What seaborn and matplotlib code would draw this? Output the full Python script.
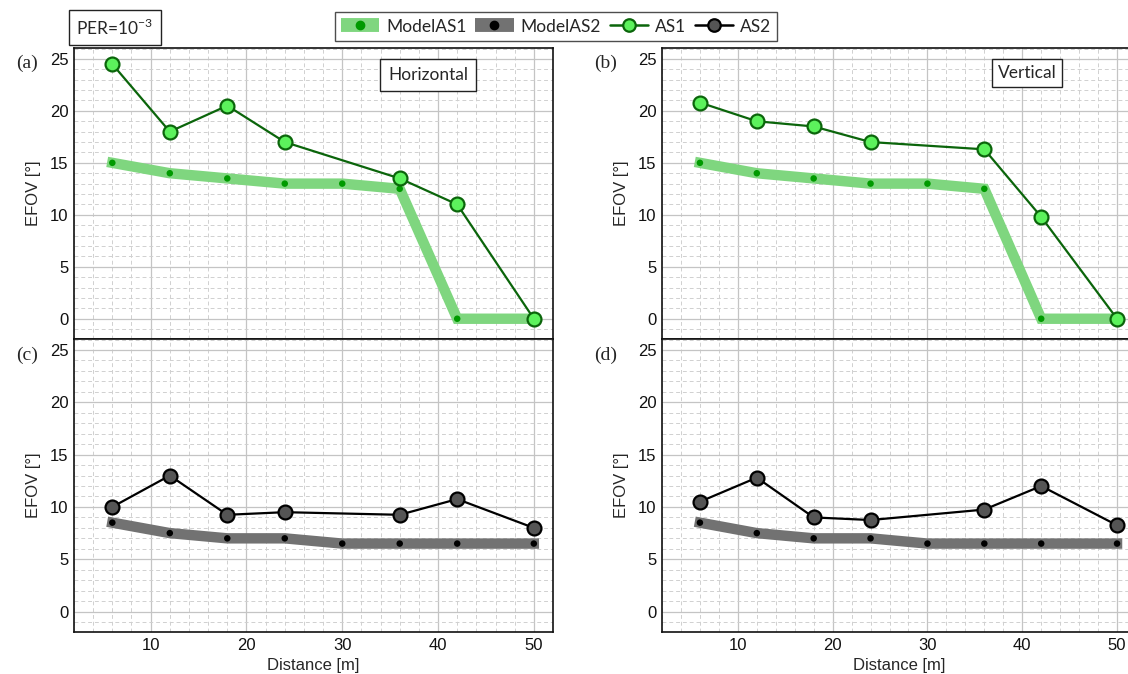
import numpy as np
import matplotlib
matplotlib.use("Agg")
import matplotlib.pyplot as plt
from matplotlib.lines import Line2D
from matplotlib.ticker import MultipleLocator
import seaborn as sns

# ---------------- data ----------------
dist_meas = [6, 12, 18, 24, 36, 42, 50]
dist_model = [6, 12, 18, 24, 30, 36, 42, 50]

model_as1 = [15, 14, 13.5, 13, 13, 12.5, 0, 0]
model_as2 = [8.5, 7.5, 7, 7, 6.5, 6.5, 6.5, 6.5]

as1_horizontal = [24.5, 18, 20.5, 17, 13.5, 11, 0]
as1_vertical = [20.8, 19, 18.5, 17, 16.3, 9.8, 0]
as2_horizontal = [10, 13, 9.25, 9.5, 9.25, 10.75, 8]
as2_vertical = [10.5, 12.8, 9, 8.75, 9.75, 12, 8.25]

y_ticks = [0, 5, 10, 15, 20, 25]
x_ticks = [10, 20, 30, 40, 50]

# ---------------- style ----------------
sns.set_theme(style="whitegrid")
plt.rcParams["font.family"] = ["Liberation Sans", "DejaVu Sans"]

GREEN_BAND = "#7fd67f"
GREEN_DOT = "#009a00"
GREEN_LINE = "#0b650b"
GREEN_FILL = "#5cf25c"
GRAY_BAND = "#727272"
GRAY_FILL = "#555555"
BOX_FONT = ["Lato", "DejaVu Sans"]

W, H = 1128, 674
fig = plt.figure(figsize=(W / 100, H / 100), dpi=100)


def px_axes(x0, y0, x1, y1):
    return fig.add_axes([x0 / W, 1 - y1 / H, (x1 - x0) / W, (y1 - y0) / H])


ax_a = px_axes(74, 48, 553, 339)
ax_c = px_axes(74, 339, 553, 632)
ax_b = px_axes(662, 48, 1136, 339)
ax_d = px_axes(662, 339, 1136, 632)


def style_axes(ax, bottom):
    ax.set_xlim(2, 52)
    ax.set_ylim(-1.95, 26.05)
    ax.set_xticks(x_ticks)
    ax.set_yticks(y_ticks)
    ax.xaxis.set_minor_locator(MultipleLocator(2))
    ax.yaxis.set_minor_locator(MultipleLocator(1))
    ax.grid(which="major", color="#c4c4c4", lw=0.9, ls="-")
    ax.grid(which="minor", color="#d0d0d0", lw=0.7, ls=(0, (4, 3)))
    ax.set_axisbelow(True)
    ax.set_facecolor("white")
    ax.tick_params(which="both", length=0, labelsize=12, colors="#111111", pad=4)
    for s in ax.spines.values():
        s.set_color("#111111")
        s.set_linewidth(1.2)
    ax.set_ylabel("EFOV [°]", fontsize=12, labelpad=6)
    if bottom:
        ax.set_xlabel("Distance [m]", fontsize=12, labelpad=4)
    else:
        ax.set_xlabel("")
        ax.tick_params(axis="x", labelbottom=False)


def draw_model(ax, values, band, dot):
    sns.lineplot(x=dist_model, y=values, ax=ax, color=band, lw=7.5,
                 solid_capstyle="projecting", solid_joinstyle="miter", zorder=2)
    sns.scatterplot(x=dist_model, y=values, ax=ax, color=dot, s=22,
                    edgecolor="none", zorder=3)


def draw_meas(ax, values, line, fill):
    sns.lineplot(x=dist_meas, y=values, ax=ax, color=line, lw=1.6,
                 marker="o", markersize=10, markerfacecolor=fill,
                 markeredgecolor=line, markeredgewidth=1.6, zorder=4)


draw_model(ax_a, model_as1, GREEN_BAND, GREEN_DOT)
draw_meas(ax_a, as1_horizontal, GREEN_LINE, GREEN_FILL)
draw_model(ax_b, model_as1, GREEN_BAND, GREEN_DOT)
draw_meas(ax_b, as1_vertical, GREEN_LINE, GREEN_FILL)
draw_model(ax_c, model_as2, GRAY_BAND, "black")
draw_meas(ax_c, as2_horizontal, "black", GRAY_FILL)
draw_model(ax_d, model_as2, GRAY_BAND, "black")
draw_meas(ax_d, as2_vertical, "black", GRAY_FILL)

for ax, bottom in [(ax_a, False), (ax_b, False), (ax_c, True), (ax_d, True)]:
    style_axes(ax, bottom)

# panel letters
for label, xp, yp in [("(a)", 27, 63), ("(b)", 606, 63), ("(c)", 27, 355), ("(d)", 606, 355)]:
    fig.text(xp / W, 1 - yp / H, label, fontsize=14, ha="center", va="center",
             family=["Liberation Serif", "DejaVu Serif"])

box = dict(boxstyle="square,pad=0.45", facecolor="white", edgecolor="#222222", lw=1.0)
fig.text(428 / W, 1 - 75 / H, "Horizontal", fontsize=12.5, ha="center", va="center",
         family=BOX_FONT, bbox=box)
fig.text(1027 / W, 1 - 73 / H, "Vertical", fontsize=12.5, ha="center", va="center",
         family=BOX_FONT, bbox=dict(box, boxstyle="square,pad=0.35"))
fig.text(115 / W, 1 - 27.5 / H, r"PER=10$^{\mathregular{-3}}$", fontsize=12.5,
         ha="center", va="center", family=BOX_FONT,
         bbox=dict(box, boxstyle="square,pad=0.45"))

# legend
handles = [
    Line2D([], [], color=GREEN_BAND, lw=10, marker="o", markersize=6,
           markerfacecolor=GREEN_DOT, markeredgecolor=GREEN_DOT, solid_capstyle="butt"),
    Line2D([], [], color=GRAY_BAND, lw=10, marker="o", markersize=6,
           markerfacecolor="black", markeredgecolor="black", solid_capstyle="butt"),
    Line2D([], [], color=GREEN_LINE, lw=1.8, marker="o", markersize=9,
           markerfacecolor=GREEN_FILL, markeredgecolor=GREEN_LINE, markeredgewidth=1.6),
    Line2D([], [], color="black", lw=1.8, marker="o", markersize=9,
           markerfacecolor=GRAY_FILL, markeredgecolor="black", markeredgewidth=1.6),
]
leg = fig.legend(handles, ["ModelAS1", "ModelAS2", "AS1", "AS2"], ncol=4,
                 loc="center", bbox_to_anchor=(556 / W, 1 - 26.5 / H),
                 frameon=True, fancybox=False, edgecolor="#222222",
                 prop={"family": BOX_FONT, "size": 12.5},
                 handlelength=2.2, handletextpad=0.4, columnspacing=0.5,
                 borderpad=0.35, borderaxespad=0)
leg.get_frame().set_linewidth(1.0)

fig.savefig("out.png", dpi=100)
